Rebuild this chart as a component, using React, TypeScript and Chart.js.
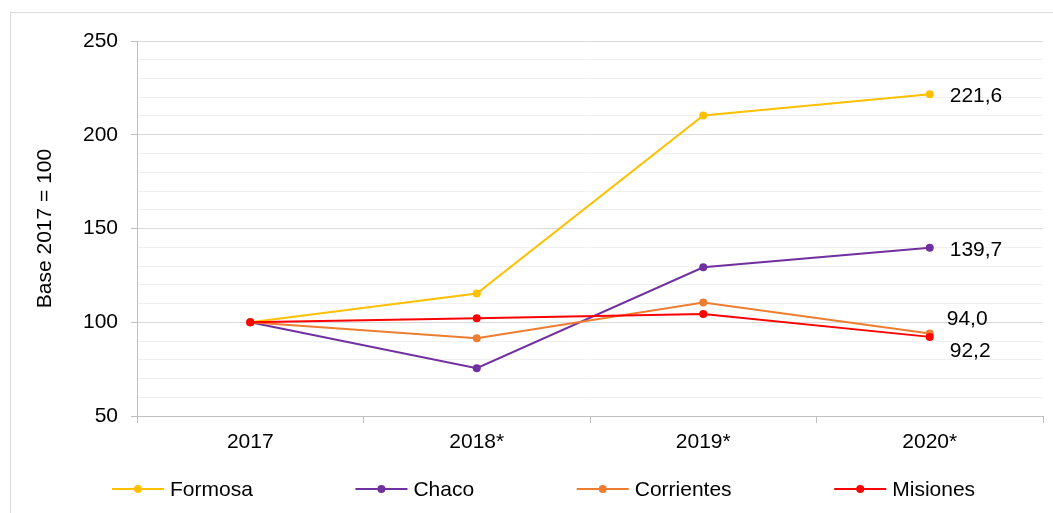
import React, { useEffect, useRef } from "react";
import { Chart, registerables } from "chart.js";

Chart.register(...registerables);

const categories = ["2017", "2018*", "2019*", "2020*"];
const seriesNames = ["Formosa", "Chaco", "Corrientes", "Misiones"];
const formosa = [100, 115.3, 210.3, 221.6];
const chaco = [100, 75.5, 129.3, 139.7];
const corrientes = [100, 91.5, 110.5, 94.0];
const misiones = [100, 102.1, 104.4, 92.2];
const endLabels = ["221,6", "139,7", "94,0", "92,2"];
const yTitle = "Base 2017 = 100";

const colors = ["#FFC000", "#7030A0", "#ED7D31", "#FF0000"];
const labelDx = [20, 20, 17, 20];
const labelDy = [2, 2, -14, 14];
const FONT = "'Liberation Sans', Arial, sans-serif";

export default function App() {
  const ref = useRef<HTMLCanvasElement | null>(null);

  useEffect(() => {
    document.body.style.margin = "0";
    const canvas = ref.current;
    if (!canvas) return;
    const values = [formosa, chaco, corrientes, misiones];

    const decor = {
      id: "decor",
      beforeDraw(chart: any) {
        const ctx = chart.ctx;
        ctx.save();
        ctx.fillStyle = "#ffffff";
        ctx.fillRect(0, 0, chart.width, chart.height);
        ctx.strokeStyle = "#d9d9d9";
        ctx.lineWidth = 1;
        ctx.strokeRect(10.5, 12.5, 1200, 700);
        ctx.restore();
      },
      afterDraw(chart: any) {
        const ctx = chart.ctx;
        ctx.save();
        // y title
        ctx.font = `21px ${FONT}`;
        ctx.fillStyle = "#000";
        ctx.translate(45, (chart.chartArea.top + chart.chartArea.bottom) / 2);
        ctx.rotate(-Math.PI / 2);
        ctx.textAlign = "center";
        ctx.textBaseline = "middle";
        ctx.fillText(yTitle, 0, 0);
        ctx.restore();

        // end labels
        ctx.save();
        ctx.font = `21px ${FONT}`;
        ctx.fillStyle = "#000";
        ctx.textAlign = "left";
        ctx.textBaseline = "middle";
        chart.data.datasets.forEach((ds: any, i: number) => {
          const meta = chart.getDatasetMeta(i);
          const el = meta.data[meta.data.length - 1];
          if (!el) return;
          ctx.fillText(endLabels[i], el.x + labelDx[i], el.y + labelDy[i]);
        });
        ctx.restore();

        // legend
        ctx.save();
        ctx.font = `21px ${FONT}`;
        ctx.textBaseline = "middle";
        ctx.textAlign = "left";
        let x = 112;
        const y = 489;
        chart.data.datasets.forEach((ds: any, i: number) => {
          ctx.strokeStyle = ds.borderColor;
          ctx.lineWidth = 2;
          ctx.beginPath();
          ctx.moveTo(x, y);
          ctx.lineTo(x + 52, y);
          ctx.stroke();
          ctx.fillStyle = ds.borderColor;
          ctx.beginPath();
          ctx.arc(x + 26, y, 4, 0, Math.PI * 2);
          ctx.fill();
          ctx.fillStyle = "#000";
          ctx.fillText(ds.label, x + 58, y + 1);
          x += 58 + ctx.measureText(ds.label).width + 102.6;
        });
        ctx.restore();
      },
    };

    const chart = new Chart(canvas, {
      type: "line",
      data: {
        labels: categories,
        datasets: seriesNames.map((name, i) => ({
          label: name,
          data: values[i],
          borderColor: colors[i],
          backgroundColor: colors[i],
          borderWidth: 2,
          pointRadius: 4,
          pointHoverRadius: 4,
          pointBorderWidth: 0,
          tension: 0,
          order: 4 - i,
        })),
      },
      options: {
        responsive: false,
        animation: false,
        devicePixelRatio: 1,
        layout: { padding: { left: 0, top: 41, right: 10, bottom: 0 } },
        plugins: {
          legend: { display: false },
          tooltip: { enabled: false },
          title: { display: false },
        },
        scales: {
          x: {
            offset: true,
            afterFit: (s: any) => {
              s.height = 97;
            },
            grid: {
              offset: true,
              drawOnChartArea: false,
              drawTicks: true,
              tickLength: 7,
              color: "#bfbfbf",
            },
            border: { color: "#bfbfbf", width: 1 },
            ticks: {
              color: "#000",
              font: { family: FONT, size: 21 },
              padding: 7,
              maxRotation: 0,
            },
          },
          y: {
            min: 50,
            max: 250,
            afterFit: (s: any) => {
              s.width = 137;
            },
            grid: {
              color: (c: any) =>
                c.tick && c.tick.value % 50 === 0 ? "#d9d9d9" : "#f0f0f0",
              tickColor: (c: any) =>
                c.tick && c.tick.value % 50 === 0 ? "#bfbfbf" : "rgba(0,0,0,0)",
              tickLength: 6,
              lineWidth: 1,
            },
            border: { color: "#bfbfbf", width: 1 },
            ticks: {
              stepSize: 10,
              autoSkip: false,
              color: "#000",
              font: { family: FONT, size: 21 },
              padding: 13,
              callback: (v: any) => (Number(v) % 50 === 0 ? String(v) : ""),
            },
          },
        },
      },
      plugins: [decor],
    });
    return () => chart.destroy();
  }, []);

  return (
    <div style={{ position: "absolute", left: 0, top: 0, width: 1053, height: 513 }}>
      <canvas ref={ref} width={1053} height={513} style={{ width: 1053, height: 513, display: "block" }} />
    </div>
  );
}
